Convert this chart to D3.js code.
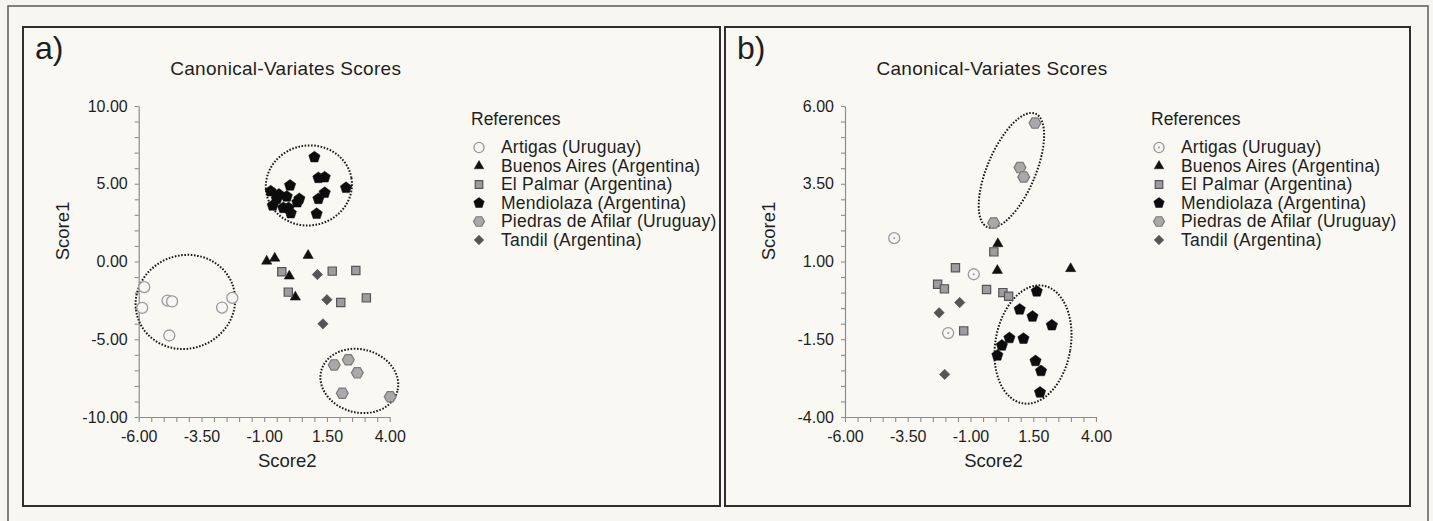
<!DOCTYPE html>
<html>
<head>
<meta charset="utf-8">
<script src="https://cdn.jsdelivr.net/npm/d3@7"></script>
<style>
  body { margin: 0; background: #f6f5f0; }
  svg { display: block; }
</style>
</head>
<body>
<svg id="chart" width="1433" height="521"></svg>
<script>
// legend names, same for both panels
const groups = ["Artigas (Uruguay)", "Buenos Aires (Argentina)", "El Palmar (Argentina)",
  "Mendiolaza (Argentina)", "Piedras de Afilar (Uruguay)", "Tandil (Argentina)"];

// panel a) scores  [Score2, Score1]
const artigasA = [[-5.78,-1.65],[-5.86,-2.98],[-4.85,-2.51],[-4.67,-2.57],[-4.78,-4.76],[-2.68,-2.96],[-2.27,-2.34]];
const buenosAiresA = [[-0.90,0.02],[-0.58,0.21],[0.75,0.39],[0.0,-0.94],[0.24,-2.29]];
const elPalmarA = [[-0.30,-0.66],[-0.04,-1.97],[1.71,-0.62],[2.65,-0.58],[2.05,-2.64],[3.07,-2.34]];
const mendiolazaA = [[1.0,6.71],[-0.74,4.52],[-0.66,3.60],[-0.50,4.03],[-0.41,4.31],[-0.10,4.18],[0.03,4.89],
  [-0.24,3.45],[-0.03,3.45],[0.06,3.11],[0.32,3.81],[0.40,4.03],[1.16,5.38],[1.41,5.42],[1.16,4.03],
  [1.41,4.42],[1.09,3.07],[2.26,4.74]];
const piedrasA = [[1.79,-6.65],[2.35,-6.32],[2.71,-7.16],[2.11,-8.47],[4.02,-8.70]];
const tandilA = [[1.12,-0.84],[1.50,-2.46],[1.34,-4.01]];

// panel b) scores
const artigasB = [[-4.04,1.75],[-0.87,0.59],[-1.89,-1.30]];
const buenosAiresB = [[0.09,1.57],[0.07,0.71],[2.99,0.77]];
const elPalmarB = [[-0.07,1.31],[-1.60,0.80],[-2.31,0.27],[-2.04,0.12],[-0.36,0.10],[0.29,0.0],[0.52,-0.12],[-1.27,-1.23]];
const mendiolazaB = [[1.64,0.04],[0.96,-0.54],[1.47,-0.77],[2.24,-1.05],[0.55,-1.46],[1.11,-1.48],[0.25,-1.70],
  [0.07,-2.02],[1.59,-2.20],[1.81,-2.52],[1.77,-3.21]];
const piedrasB = [[1.57,5.45],[0.97,4.02],[1.12,3.72],[-0.08,2.24]];
const tandilB = [[-1.43,-0.32],[-2.25,-0.65],[-2.03,-2.63]];

// dotted group ellipses (centre, radii in score units, tilt in degrees)
const ellipsesA = [
  {cx: -4.14, cy: -2.6, rx: 2.0, ry: 3.0, angle: -20},
  {cx: 0.78, cy: 4.89, rx: 1.72, ry: 2.57, angle: -10},
  {cx: 2.79, cy: -7.68, rx: 1.57, ry: 2.03, angle: 15}
];
const ellipsesB = [
  {cx: 0.63, cy: 3.93, rx: 0.96, ry: 1.98, angle: 23},
  {cx: 1.49, cy: -1.67, rx: 1.5, ry: 1.92, angle: 10}
];

const xTicks = [-6, -3.5, -1, 1.5, 4];
const yTicksA = [-10, -5, 0, 5, 10];
const yTicksB = [-4, -1.5, 1, 3.5, 6];

const fontFam = "'Liberation Sans', Arial, sans-serif";
const textColor = "#1e1e1e";
const axisColor = "#8c8c8c";

// custom polygons for the pentagon / hexagon markers
function polygonSymbol(n, k) {
  return {
    draw(ctx, size) {
      let r = Math.sqrt(size / k);
      for (let i = 0; i < n; i++) {
        let a = -Math.PI / 2 + i * 2 * Math.PI / n;
        if (i == 0) ctx.moveTo(r * Math.cos(a), r * Math.sin(a));
        else ctx.lineTo(r * Math.cos(a), r * Math.sin(a));
      }
      ctx.closePath();
    }
  };
}
const pentagon = polygonSymbol(5, 2.5 * Math.sin(2 * Math.PI / 5));
const hexagon = polygonSymbol(6, 3 * Math.sqrt(3) / 2);

const styles = [
  {type: d3.symbolCircle, size: 95, fill: "#f6f6f4", stroke: "#9a9a9a", sw: 1.3, rot: 0},
  {type: d3.symbolTriangle, size: 46, fill: "#111", stroke: "#111", sw: 0.5, rot: 0},
  {type: d3.symbolSquare, size: 68, fill: "#9d9d9d", stroke: "#555", sw: 1.2, rot: 0},
  {type: pentagon, size: 84, fill: "#0c0c0c", stroke: "#0c0c0c", sw: 0.5, rot: 0},
  {type: hexagon, size: 92, fill: "#a9a9a9", stroke: "#7a7a7a", sw: 1.2, rot: 30},
  {type: d3.symbolSquare, size: 54, fill: "#555", stroke: "#444", sw: 0.5, rot: 45}
];

let svg = d3.select("#chart");

// outer frame + panel frames
svg.append("rect")
  .attr("x", 8).attr("y", 6).attr("width", 1420).attr("height", 530)
  .style("fill", "#f7f6f1").style("stroke", "#5a5a5a").style("stroke-width", 1.5);
svg.append("rect")
  .attr("x", 23).attr("y", 27).attr("width", 697).attr("height", 479)
  .style("fill", "#f9f8f3").style("stroke", "#2e2e2e").style("stroke-width", 2);
svg.append("rect")
  .attr("x", 725).attr("y", 27).attr("width", 685).attr("height", 479)
  .style("fill", "#f9f8f3").style("stroke", "#2e2e2e").style("stroke-width", 2);

function drawPanel(opt) {
  let g = svg.append("g");

  let x = d3.scaleLinear().domain([-6, 4]).range([opt.left, opt.left + 251]);
  let y = d3.scaleLinear().domain(opt.yDomain).range([417, 106]);

  // panel letter
  g.append("text")
    .attr("x", opt.letterX).attr("y", 59)
    .text(opt.letter)
    .style("font-family", fontFam).style("font-size", "32px").style("fill", textColor);

  g.append("text")
    .attr("x", opt.left + 147).attr("y", 75)
    .text("Canonical-Variates Scores")
    .style("font-family", fontFam).style("font-size", "19px").style("letter-spacing", "0.3px")
    .style("text-anchor", "middle").style("fill", textColor);

  // minor ticks every 0.5 on x, every 1/0.5 on y
  let xAll = d3.range(-6, 4.001, 0.5);
  let yStep = (opt.yDomain[1] - opt.yDomain[0]) / 20;
  let yAll = d3.range(0, 21).map(i => opt.yDomain[0] + i * yStep);
  let isMajor = (v, list) => list.some(t => Math.abs(t - v) < 1e-6);

  let xAxis = g.append("g")
    .attr("transform", "translate(0," + 417 + ")")
    .call(d3.axisBottom(x).tickValues(xAll).tickSize(5).tickSizeOuter(0).tickPadding(9)
      .tickFormat(d => isMajor(d, xTicks) ? d.toFixed(2) : ""));
  let yAxis = g.append("g")
    .attr("transform", "translate(" + x(-6) + ",0)")
    .call(d3.axisLeft(y).tickValues(yAll).tickSize(4).tickSizeOuter(0).tickPadding(7)
      .tickFormat(d => isMajor(d, opt.yTicks) ? d.toFixed(2) : ""));

  [xAxis, yAxis].forEach(a => {
    a.select(".domain").style("stroke", axisColor).style("stroke-width", 1.2);
    a.selectAll(".tick line").style("stroke", axisColor).style("stroke-width", 1.1);
    a.selectAll(".tick text")
      .style("font-family", fontFam).style("font-size", "16px").style("fill", textColor);
  });

  g.append("text")
    .attr("x", x(-1) + 23).attr("y", 467)
    .text("Score2")
    .style("font-family", fontFam).style("font-size", "18.5px")
    .style("text-anchor", "middle").style("fill", textColor);

  g.append("text")
    .attr("transform", "translate(" + (opt.left - 70) + ", 231) rotate(-90)")
    .text("Score1")
    .style("font-family", fontFam).style("font-size", "18.5px")
    .style("text-anchor", "middle").style("fill", textColor);

  // dotted ellipses
  g.selectAll(".group_ellipse")
    .data(opt.ellipses)
    .enter()
    .append("ellipse")
    .attr("class", "group_ellipse")
    .attr("cx", d => x(d.cx))
    .attr("cy", d => y(d.cy))
    .attr("rx", d => x(d.cx + d.rx) - x(d.cx))
    .attr("ry", d => y(d.cy) - y(d.cy + d.ry))
    .attr("transform", d => "rotate(" + d.angle + "," + x(d.cx) + "," + y(d.cy) + ")")
    .style("fill", "none")
    .style("stroke", "#1a1a1a")
    .style("stroke-width", 2)
    .style("stroke-dasharray", "1.6,1.6");

  // points
  opt.series.forEach((pts, i) => {
    let s = styles[i];
    let sym = d3.symbol().type(s.type).size(s.size);
    g.selectAll(".pt_" + i)
      .data(pts)
      .enter()
      .append("path")
      .attr("class", "pt_" + i)
      .attr("d", sym)
      .attr("transform", d => "translate(" + x(d[0]) + "," + y(d[1]) + ") rotate(" + s.rot + ")")
      .style("fill", s.fill)
      .style("stroke", s.stroke)
      .style("stroke-width", s.sw);
    if (i == 0 && opt.dotted) {
      g.selectAll(".dot_" + i)
        .data(pts)
        .enter()
        .append("circle")
        .attr("cx", d => x(d[0])).attr("cy", d => y(d[1])).attr("r", 1)
        .style("fill", "#9a9a9a");
    }
  });

  // legend
  g.append("text")
    .attr("x", opt.legendX).attr("y", 125)
    .text("References")
    .style("font-family", fontFam).style("font-size", "17.5px").style("fill", textColor);

  groups.forEach((name, i) => {
    let s = styles[i];
    let cy = 147.5 + i * 18.5;
    g.append("path")
      .attr("d", d3.symbol().type(s.type).size(s.size * 0.85))
      .attr("transform", "translate(" + (opt.legendX + 8) + "," + cy + ") rotate(" + s.rot + ")")
      .style("fill", s.fill)
      .style("stroke", s.stroke)
      .style("stroke-width", s.sw);
    if (i == 0 && opt.dotted) {
      g.append("circle")
        .attr("cx", opt.legendX + 8).attr("cy", cy).attr("r", 1)
        .style("fill", "#9a9a9a");
    }
    g.append("text")
      .attr("x", opt.legendX + 30).attr("y", cy + 5.5)
      .text(name)
      .style("font-family", fontFam).style("font-size", "17.5px").style("letter-spacing", "0.2px")
      .style("fill", textColor);
  });
}

drawPanel({
  letter: "a)", letterX: 35, left: 138.7, legendX: 471,
  yDomain: [-10, 10], yTicks: yTicksA, ellipses: ellipsesA, dotted: false,
  series: [artigasA, buenosAiresA, elPalmarA, mendiolazaA, piedrasA, tandilA]
});

drawPanel({
  letter: "b)", letterX: 737, left: 845, legendX: 1151,
  yDomain: [-4, 6], yTicks: yTicksB, ellipses: ellipsesB, dotted: true,
  series: [artigasB, buenosAiresB, elPalmarB, mendiolazaB, piedrasB, tandilB]
});
</script>
</body>
</html>
